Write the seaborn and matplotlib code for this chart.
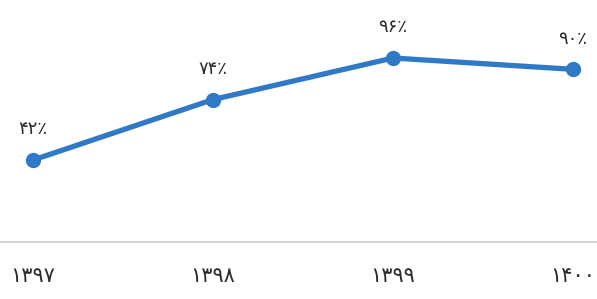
import matplotlib
matplotlib.use("Agg")
import matplotlib.pyplot as plt
import pandas as pd
import seaborn as sns

years = ["۱۳۹۷", "۱۳۹۸", "۱۳۹۹", "۱۴۰۰"]
values = [42, 74, 96, 90]
value_labels = ["۴۲٪", "۷۴٪", "۹۶٪", "۹۰٪"]

sns.set_style("white")
plt.rcParams["font.family"] = ["DejaVu Sans", "Noto Sans"]

df = pd.DataFrame({"pos": range(len(years)), "value": values})

fig = plt.figure(figsize=(5.97, 2.99), dpi=100)
ax = fig.add_axes([0, 0.1906, 1, 0.8094])

blue = "#3079c6"
sns.lineplot(data=df, x="pos", y="value", ax=ax, color=blue, linewidth=3.8,
             marker="o", markersize=11, markeredgewidth=0, zorder=3)

for x, y, lab in zip(df["pos"], df["value"], value_labels):
    ax.annotate(lab, (x, y), xytext=(0, 22), textcoords="offset points",
                ha="center", va="center", fontsize=13, color="#2a2a2a")

ax.set_xlim(-33 / 180, 3 + 24 / 180)
ax.set_ylim(-1.4, 126.7)
ax.set_xticks(df["pos"])
ax.set_xticklabels(years, fontsize=15, color="#2a2a2a")
ax.tick_params(axis="x", length=0, pad=17)
ax.set_yticks([])
ax.set_xlabel("")
ax.set_ylabel("")
for s in ["top", "left", "right"]:
    ax.spines[s].set_visible(False)
ax.spines["bottom"].set_color("#cccccc")
ax.spines["bottom"].set_linewidth(1.2)

fig.savefig("out.png", dpi=100, facecolor="white")
